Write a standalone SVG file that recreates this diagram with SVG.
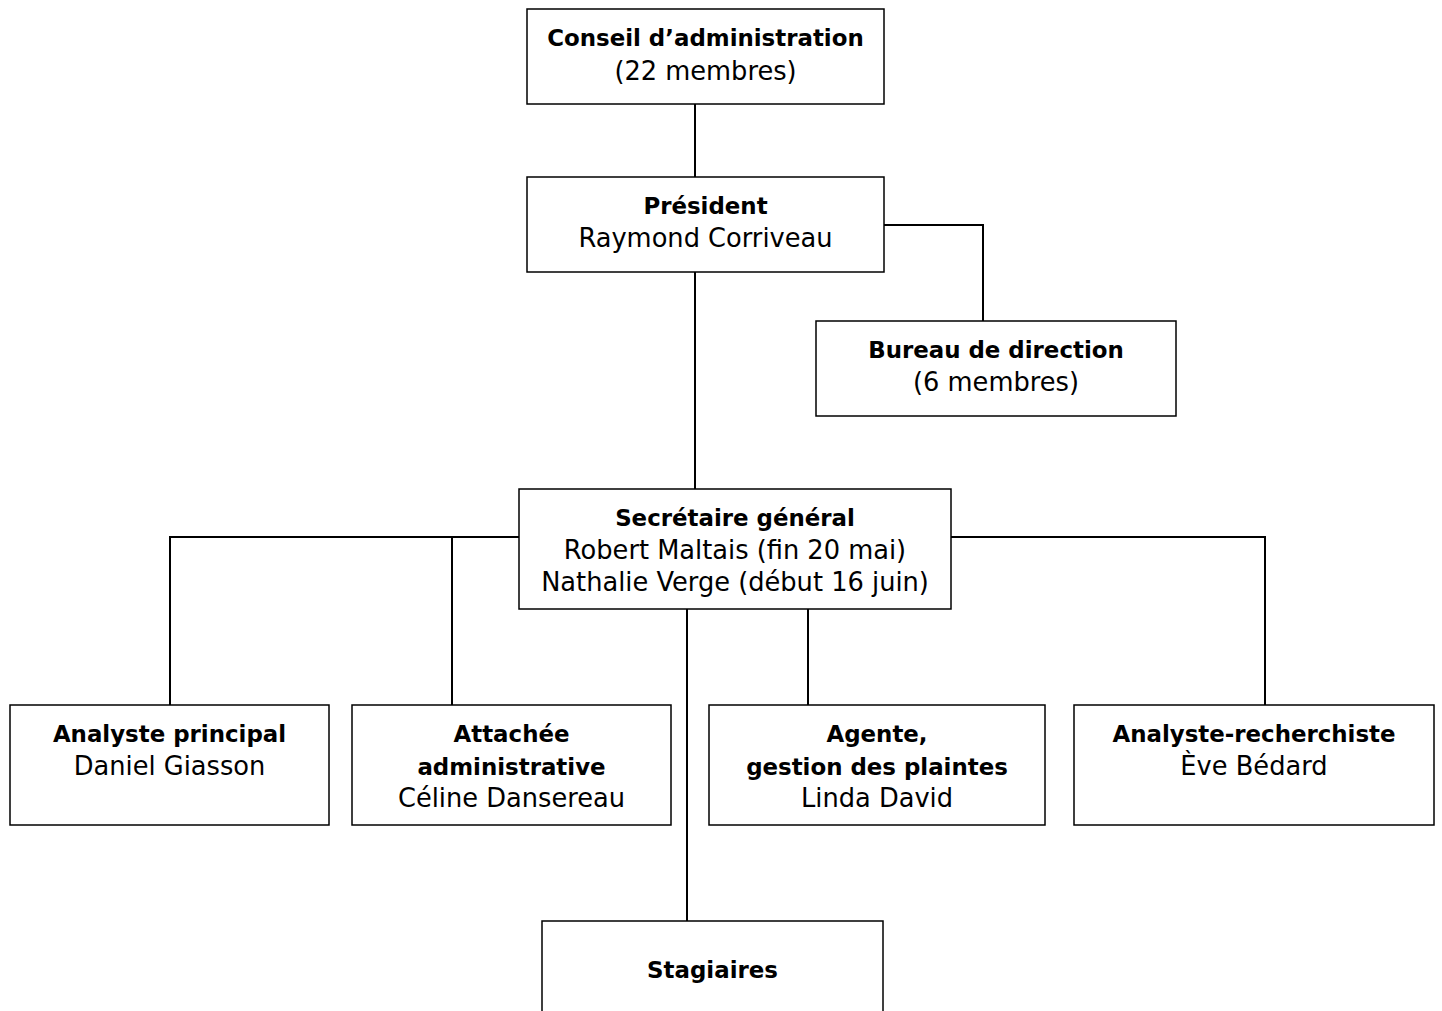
<svg xmlns="http://www.w3.org/2000/svg" width="1442" height="1011" viewBox="0 0 1442 1011">
<style>
.box{fill:#fff;stroke:#000;stroke-width:1.5}
.ln{fill:none;stroke:#000;stroke-width:2}
text{font-family:"DejaVu Sans",sans-serif;text-anchor:middle;fill:#000}
.b{font-weight:bold;font-size:22.9px}
.r{font-size:25.7px}
</style>
<rect width="1442" height="1011" fill="#fff"/>
<g id="connectors">
<path class="ln" d="M695 104V177"/>
<path class="ln" d="M884 225H983V321"/>
<path class="ln" d="M695 272V489"/>
<path class="ln" d="M519 537H170V705M452 537V705"/>
<path class="ln" d="M951 537H1265V705"/>
<path class="ln" d="M687 609V921"/>
<path class="ln" d="M808 609V705"/>
</g>
<g id="conseil"><rect class="box" x="527" y="9" width="357" height="95"/>
<text class="b" x="705.5" y="46">Conseil d’administration</text>
<text class="r" x="705.5" y="80">(22 membres)</text></g>
<g id="president"><rect class="box" x="527" y="177" width="357" height="95"/>
<text class="b" x="705.5" y="214">Président</text>
<text class="r" x="705.5" y="247">Raymond Corriveau</text></g>
<g id="bureau"><rect class="box" x="816" y="321" width="360" height="95"/>
<text class="b" x="996" y="358">Bureau de direction</text>
<text class="r" x="996" y="391">(6 membres)</text></g>
<g id="secretaire"><rect class="box" x="519" y="489" width="432" height="120"/>
<text class="b" x="735" y="526">Secrétaire général</text>
<text class="r" x="735" y="559">Robert Maltais (fin 20 mai)</text>
<text class="r" x="735" y="591">Nathalie Verge (début 16 juin)</text></g>
<g id="analyste-principal"><rect class="box" x="10" y="705" width="319" height="120"/>
<text class="b" x="169.5" y="742">Analyste principal</text>
<text class="r" x="169.5" y="775">Daniel Giasson</text></g>
<g id="attachee"><rect class="box" x="352" y="705" width="319" height="120"/>
<text class="b" x="511.5" y="742">Attachée</text>
<text class="b" x="511.5" y="775">administrative</text>
<text class="r" x="511.5" y="807">Céline Dansereau</text></g>
<g id="agente"><rect class="box" x="709" y="705" width="336" height="120"/>
<text class="b" x="877" y="742">Agente,</text>
<text class="b" x="877" y="775">gestion des plaintes</text>
<text class="r" x="877" y="807">Linda David</text></g>
<g id="analyste-recherchiste"><rect class="box" x="1074" y="705" width="360" height="120"/>
<text class="b" x="1254" y="742">Analyste-recherchiste</text>
<text class="r" x="1254" y="775">Ève Bédard</text></g>
<g id="stagiaires"><rect class="box" x="542" y="921" width="341" height="110"/>
<text class="b" x="712.5" y="978">Stagiaires</text></g>
</svg>
